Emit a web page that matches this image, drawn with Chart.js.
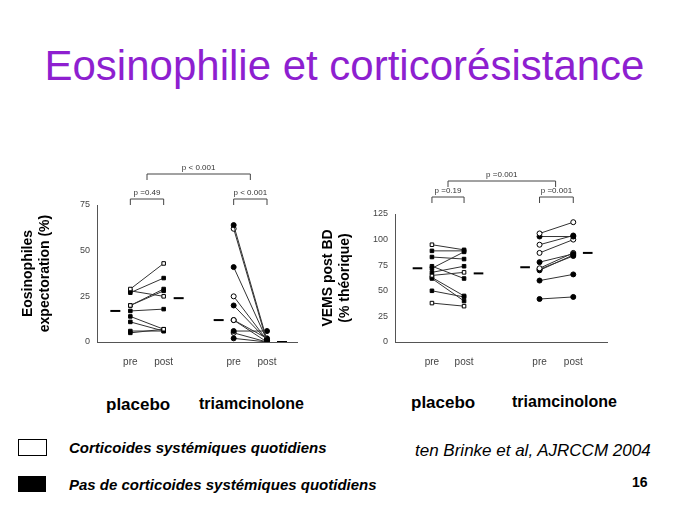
<!DOCTYPE html>
<html><head><meta charset="utf-8">
<script src="https://cdn.jsdelivr.net/npm/chart.js@4"></script>
<style>
body{margin:0;width:689px;height:517px;background:#fff;position:relative;font-family:Arial,"Liberation Sans",sans-serif;overflow:hidden}
.t{position:absolute;white-space:nowrap}
canvas{position:absolute}
</style></head><body>
<div class="t" style="left:0;width:689px;text-align:center;top:42px;font-size:42px;color:#8e1fd0">Eosinophilie et corticorésistance</div>
<div style="position:absolute;left:20px;top:140px;width:290px;height:240px"><canvas id="left"></canvas></div>
<div style="position:absolute;left:320px;top:150px;width:300px;height:230px"><canvas id="right"></canvas></div>
<div class="t" style="left:106px;top:395px;font-size:17px;font-weight:bold">placebo</div>
<div class="t" style="left:199px;top:395px;font-size:16px;font-weight:bold">triamcinolone</div>
<div class="t" style="left:411px;top:393px;font-size:17px;font-weight:bold">placebo</div>
<div class="t" style="left:512px;top:393px;font-size:16px;font-weight:bold">triamcinolone</div>
<div style="position:absolute;left:18px;top:439px;width:27px;height:15px;border:1px solid #000"></div>
<div style="position:absolute;left:18px;top:476px;width:28px;height:16px;background:#000"></div>
<div class="t" style="left:69px;top:439px;font-size:15px;font-weight:bold;font-style:italic">Corticoides systémiques quotidiens</div>
<div class="t" style="left:69px;top:476px;font-size:15px;font-weight:bold;font-style:italic">Pas de corticoides systémiques quotidiens</div>
<div class="t" style="left:415px;top:441px;font-size:17px;font-style:italic">ten Brinke et al, AJRCCM 2004</div>
<div class="t" style="left:632px;top:474px;font-size:14px;font-weight:bold">16</div>
<script>
// Eosinophiles (%)
const eosPlaceboPre = [29, 27, 28, 20, 20, 17, 14, 6, 5, 11];
const eosPlaceboPost = [43, 35, 25, 29, 28, 18, 7, 6, 7, 6];
const eosPlaceboPreOpen = [1, 0, 0, 1, 0, 0, 0, 0, 0, 0];
const eosPlaceboPostOpen = [1, 0, 1, 0, 0, 0, 1, 0, 0, 0];
const eosTriamPre = [64, 62, 41, 25, 20, 12, 12, 6, 5, 2];
const eosTriamPost = [1, 0, 1, 1, 1, 0, 2, 6, 0, 0];
const eosTriamPreOpen = [0, 1, 0, 1, 0, 1, 0, 0, 1, 0];
const eosTriamPostOpen = [0, 1, 0, 1, 0, 1, 0, 0, 1, 0];
const eosMedians = [17, 24, 12, 0];
const eosTicks = [0, 25, 50, 75];

// VEMS post BD (% théorique)
const vemsPlaceboPre = [95, 89, 83, 74, 72, 68, 65, 63, 62, 50, 38];
const vemsPlaceboPost = [90, 89, 81, 62, 88, 74, 68, 45, 40, 44, 35];
const vemsPlaceboPreOpen = [1, 0, 0, 0, 0, 0, 1, 0, 0, 0, 1];
const vemsPlaceboPostOpen = [0, 0, 0, 0, 0, 0, 1, 0, 0, 0, 1];
const vemsTriamPre = [106, 103, 95, 87, 78, 72, 71, 70, 60, 42];
const vemsTriamPost = [117, 103, 104, 100, 86, 87, 84, 85, 66, 44];
const vemsTriamPreOpen = [1, 0, 1, 1, 0, 1, 0, 0, 0, 0];
const vemsTriamPostOpen = [1, 0, 0, 1, 0, 1, 0, 0, 0, 0];
const vemsMedians = [72, 67, 73, 87];
const vemsTicks = [0, 25, 50, 75, 100, 125];

const groupLabels = ["pre", "post", "pre", "post"];

function pairSets(pre, post, preOpen, postOpen, xPre, xPost, style) {
  return pre.map((v, i) => ({
    data: [{ x: xPre, y: v }, { x: xPost, y: post[i] }],
    borderColor: "#333",
    borderWidth: 1,
    pointStyle: style,
    pointRadius: 2.5,
    pointBorderColor: "#000",
    pointBorderWidth: 1,
    pointBackgroundColor: [preOpen[i] ? "#fff" : "#000", postOpen[i] ? "#fff" : "#000"],
  }));
}

function medianSets(medians, xs) {
  return medians.map((m, i) => {
    const side = i % 2 === 0 ? -1 : 1;
    const a = xs[i] + side * 0.3, b = xs[i] + side * 0.6;
    return { data: [{ x: a, y: m }, { x: b, y: m }], borderColor: "#000", borderWidth: 2, pointRadius: 0 };
  });
}

const bracketPlugin = {
  id: "brackets",
  afterDraw(chart) {
    const { ctx, chartArea } = chart;
    const x = chart.scales.x;
    ctx.save();
    ctx.strokeStyle = "#444";
    ctx.fillStyle = "#333";
    ctx.lineWidth = 1;
    ctx.font = "8px Arial";
    ctx.textAlign = "center";
    chart.options.plugins.brackets.items.forEach((b) => {
      const x1 = x.getPixelForValue(b.from), x2 = x.getPixelForValue(b.to);
      const y = chartArea.top - b.dy;
      ctx.beginPath();
      ctx.moveTo(x1, y + 6); ctx.lineTo(x1, y); ctx.lineTo(x2, y); ctx.lineTo(x2, y + 6);
      ctx.stroke();
      ctx.fillText(b.text, (x1 + x2) / 2, y - 4);
    });
    ctx.restore();
  },
};

function makeChart(id, sets, xs, xMax, yMax, yTicks, title, yWidth, pad, brackets) {
  new Chart(document.getElementById(id), {
    type: "line",
    data: { datasets: sets },
    plugins: [bracketPlugin],
    options: {
      animation: false,
      responsive: true,
      maintainAspectRatio: false,
      layout: { padding: pad },
      plugins: { legend: { display: false }, tooltip: { enabled: false }, brackets: { items: brackets } },
      scales: {
        x: {
          type: "linear", min: 0, max: xMax,
          afterBuildTicks: (s) => { s.ticks = xs.map((v) => ({ value: v })); },
          afterFit: (s) => { s.height = 38; },
          grid: { display: false, drawTicks: false },
          border: { color: "#555" },
          ticks: { callback: (v, i) => groupLabels[i], color: "#444", font: { size: 10 }, padding: 14, autoSkip: false, maxRotation: 0 },
        },
        y: {
          min: 0, max: yMax,
          afterBuildTicks: (s) => { s.ticks = yTicks.map((v) => ({ value: v })); },
          afterFit: (s) => { s.width = yWidth; },
          grid: { display: false, drawTicks: true, tickLength: 4 },
          border: { color: "#555" },
          ticks: { color: "#444", font: { size: 9 } },
          title: { display: true, text: title, color: "#000", font: { size: 14, weight: "bold" }, padding: 0 },
        },
      },
    },
  });
}

const xsLeft = [1, 2, 4.1, 5.1];
const leftSets = [
  ...pairSets(eosPlaceboPre, eosPlaceboPost, eosPlaceboPreOpen, eosPlaceboPostOpen, xsLeft[0], xsLeft[1], "rect"),
  ...pairSets(eosTriamPre, eosTriamPost, eosTriamPreOpen, eosTriamPostOpen, xsLeft[2], xsLeft[3], "circle"),
  ...medianSets(eosMedians, xsLeft),
];
makeChart("left", leftSets, xsLeft, 6, 75, eosTicks, ["Eosinophiles", "expectoration (%)"], 77,
  { top: 65, right: 13 },
  [{ from: 1, to: 2, dy: 6, text: "p =0.49" }, { from: 4.1, to: 5.1, dy: 6, text: "p < 0.001" }, { from: 1.5, to: 4.6, dy: 31, text: "p < 0.001" }]);

const xsRight = [1.15, 2.15, 4.5, 5.55];
const rightSets = [
  ...pairSets(vemsPlaceboPre, vemsPlaceboPost, vemsPlaceboPreOpen, vemsPlaceboPostOpen, xsRight[0], xsRight[1], "rect"),
  ...pairSets(vemsTriamPre, vemsTriamPost, vemsTriamPreOpen, vemsTriamPostOpen, xsRight[2], xsRight[3], "circle"),
  ...medianSets(vemsMedians, xsRight),
];
makeChart("right", rightSets, xsRight, 6.6, 125, vemsTicks, ["VEMS post BD", "(% théorique)"], 75,
  { top: 64, right: 13 },
  [{ from: 1.15, to: 2.15, dy: 17, text: "p =0.19" }, { from: 4.5, to: 5.55, dy: 17, text: "p =0.001" }, { from: 1.65, to: 5.0, dy: 33, text: "p =0.001" }]);
</script>
</body></html>
